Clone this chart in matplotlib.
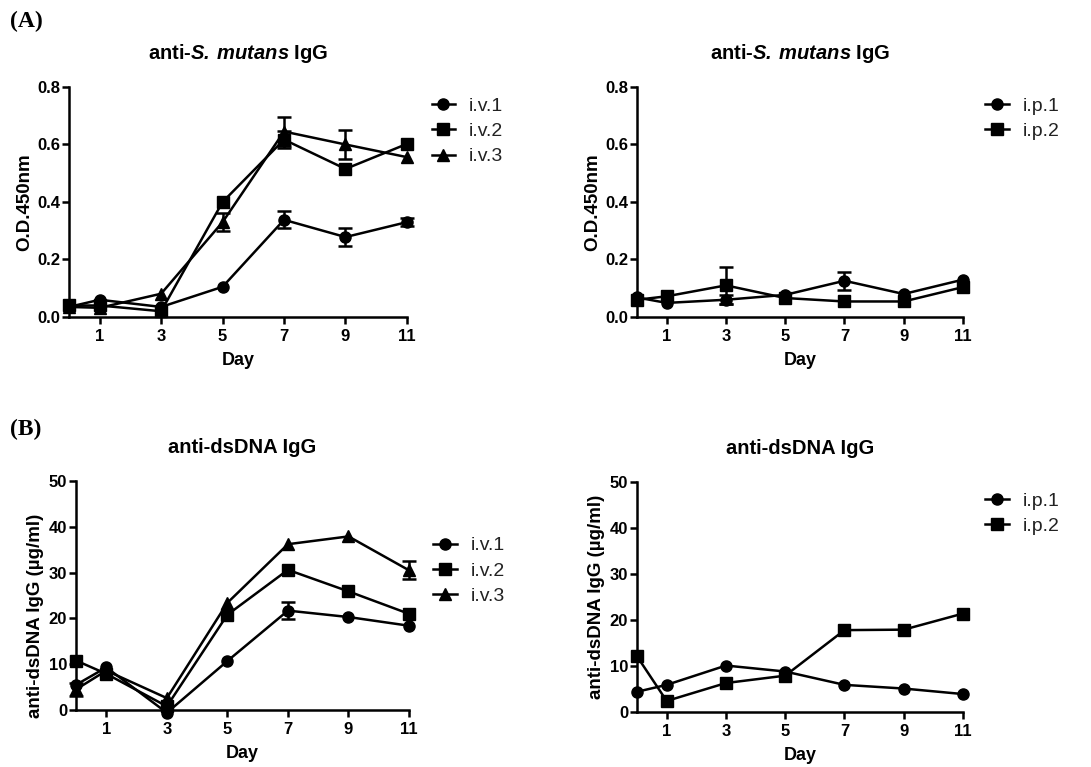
import matplotlib
matplotlib.use("Agg")
import numpy as np
import matplotlib.pyplot as plt

plt.rcParams["font.family"] = ["Liberation Sans", "DejaVu Sans"]
plt.rcParams["mathtext.fontset"] = "custom"
plt.rcParams["mathtext.bfit"] = "Liberation Sans:italic:bold"
plt.rcParams["mathtext.rm"] = "Liberation Sans:bold"

# ===== data =====
days = [0, 1, 3, 5, 7, 9, 11]
day_ticks = [1, 3, 5, 7, 9, 11]

# (A) anti-S. mutans IgG, O.D.450nm
sm_iv1 = [0.035, 0.06, 0.035, 0.105, 0.338, 0.278, 0.33]
sm_iv1_err = [0, 0, 0, 0, 0.03, 0.032, 0.015]
sm_iv2 = [0.04, 0.04, 0.02, 0.40, 0.617, 0.515, 0.602]
sm_iv2_err = [0, 0, 0, 0, 0.03, 0, 0]
sm_iv3 = [0.035, 0.032, 0.081, 0.33, 0.645, 0.60, 0.556]
sm_iv3_err = [0, 0, 0, 0.03, 0.05, 0.05, 0]

sm_ip1 = [0.068, 0.049, 0.06, 0.077, 0.126, 0.08, 0.13]
sm_ip1_err = [0, 0, 0.015, 0, 0.032, 0, 0]
sm_ip2 = [0.06, 0.072, 0.11, 0.066, 0.054, 0.054, 0.104]
sm_ip2_err = [0, 0, 0.064, 0, 0, 0, 0]

# (B) anti-dsDNA IgG, ug/ml
ds_iv1 = [5.5, 9.3, -0.6, 10.7, 21.7, 20.3, 18.4]
ds_iv1_err = [0, 0, 0, 0, 1.8, 0, 0]
ds_iv2 = [10.8, 7.9, 0.8, 20.8, 30.6, 25.9, 21.0]
ds_iv2_err = [0, 0, 0, 0, 0, 0, 0]
ds_iv3 = [4.5, 8.6, 2.6, 23.4, 36.2, 37.9, 30.5]
ds_iv3_err = [1.5, 0, 0, 0, 0, 0, 2.0]

ds_ip1 = [4.4, 5.9, 10.1, 8.8, 5.9, 5.1, 3.9]
ds_ip1_err = [0, 0, 0, 0, 0, 0, 0]
ds_ip2 = [12.1, 2.4, 6.3, 7.9, 17.8, 17.9, 21.4]
ds_ip2_err = [0, 0, 0, 0, 0, 0, 0]

sm_title = r"anti-$\mathbfit{S.\,mutans}$ IgG"
ds_title = "anti-dsDNA IgG"

markers = ["o", "s", "^"]

fig = plt.figure(figsize=(10.91, 7.67), dpi=100)

# rect, title, ylabel, ylabel y-pos, ymax, ystep, series, legend pos, tick fmt
panels = [
    ([0.0632, 0.5867, 0.3098, 0.2999], sm_title, "O.D.450nm", 0.5, 0.8, 0.2,
     [("i.v.1", sm_iv1, sm_iv1_err), ("i.v.2", sm_iv2, sm_iv2_err), ("i.v.3", sm_iv3, sm_iv3_err)],
     (1.05, 0.99), "%.1f"),
    ([0.5839, 0.5867, 0.2988, 0.2999], sm_title, "O.D.450nm", 0.5, 0.8, 0.2,
     [("i.p.1", sm_ip1, sm_ip1_err), ("i.p.2", sm_ip2, sm_ip2_err)],
     (1.045, 0.99), "%.1f"),
    ([0.0697, 0.0743, 0.3052, 0.2986], ds_title, "anti-dsDNA IgG (µg/ml)", 0.41, 50, 10,
     [("i.v.1", ds_iv1, ds_iv1_err), ("i.v.2", ds_iv2, ds_iv2_err), ("i.v.3", ds_iv3, ds_iv3_err)],
     (1.05, 0.79), "%d"),
    ([0.5839, 0.0717, 0.2988, 0.2999], ds_title, "anti-dsDNA IgG (µg/ml)", 0.5, 50, 10,
     [("i.p.1", ds_ip1, ds_ip1_err), ("i.p.2", ds_ip2, ds_ip2_err)],
     (1.045, 0.99), "%d"),
]

for rect, title, ylabel, ylab_y, ymax, ystep, series, leg_pos, fmt in panels:
    ax = fig.add_axes(rect)
    for i, (name, vals, errs) in enumerate(series):
        vals = np.array(vals)
        errs = np.array(errs)
        ax.plot(days, vals, color="black", lw=1.8, marker=markers[i], ms=8,
                label=name, clip_on=False, zorder=3)
        m = errs > 0
        if m.any():
            ax.errorbar(np.array(days)[m], vals[m], yerr=errs[m], fmt="none",
                        ecolor="black", elinewidth=1.8, capsize=5, capthick=1.8,
                        clip_on=False, zorder=3)
    ax.set_xlim(0, 11)
    ax.set_ylim(0, ymax)
    ax.set_xticks(day_ticks)
    ax.set_yticks(np.arange(0, ymax + ystep / 2, ystep))
    ax.yaxis.set_major_formatter(matplotlib.ticker.FormatStrFormatter(fmt))
    for s in ["top", "right"]:
        ax.spines[s].set_visible(False)
    for s in ["left", "bottom"]:
        ax.spines[s].set_linewidth(1.8)
    ax.tick_params(direction="out", length=5, width=1.8, labelsize=12)
    ax.tick_params(axis="y", pad=1.5)
    for lab in ax.get_xticklabels() + ax.get_yticklabels():
        lab.set_fontweight("bold")
    ax.set_xlabel("Day", fontsize=13, fontweight="bold", labelpad=6)
    ax.set_ylabel(ylabel, fontsize=13.5, fontweight="bold", labelpad=3)
    ax.yaxis.label.set_y(ylab_y)
    ax.set_title(title, fontsize=14.5, fontweight="bold", pad=20)
    leg = ax.legend(loc="upper left", bbox_to_anchor=leg_pos, frameon=False,
                    fontsize=14, handlelength=1.2, handletextpad=0.7,
                    labelspacing=0.4, borderaxespad=0)
    for t in leg.get_texts():
        t.set_color("#222222")

fig.text(0.009, 0.972, "(A)", fontsize=17, fontweight="bold",
         family="Liberation Serif", va="center")
fig.text(0.009, 0.44, "(B)", fontsize=17, fontweight="bold",
         family="Liberation Serif", va="center")

fig.savefig("out.png", dpi=100)
